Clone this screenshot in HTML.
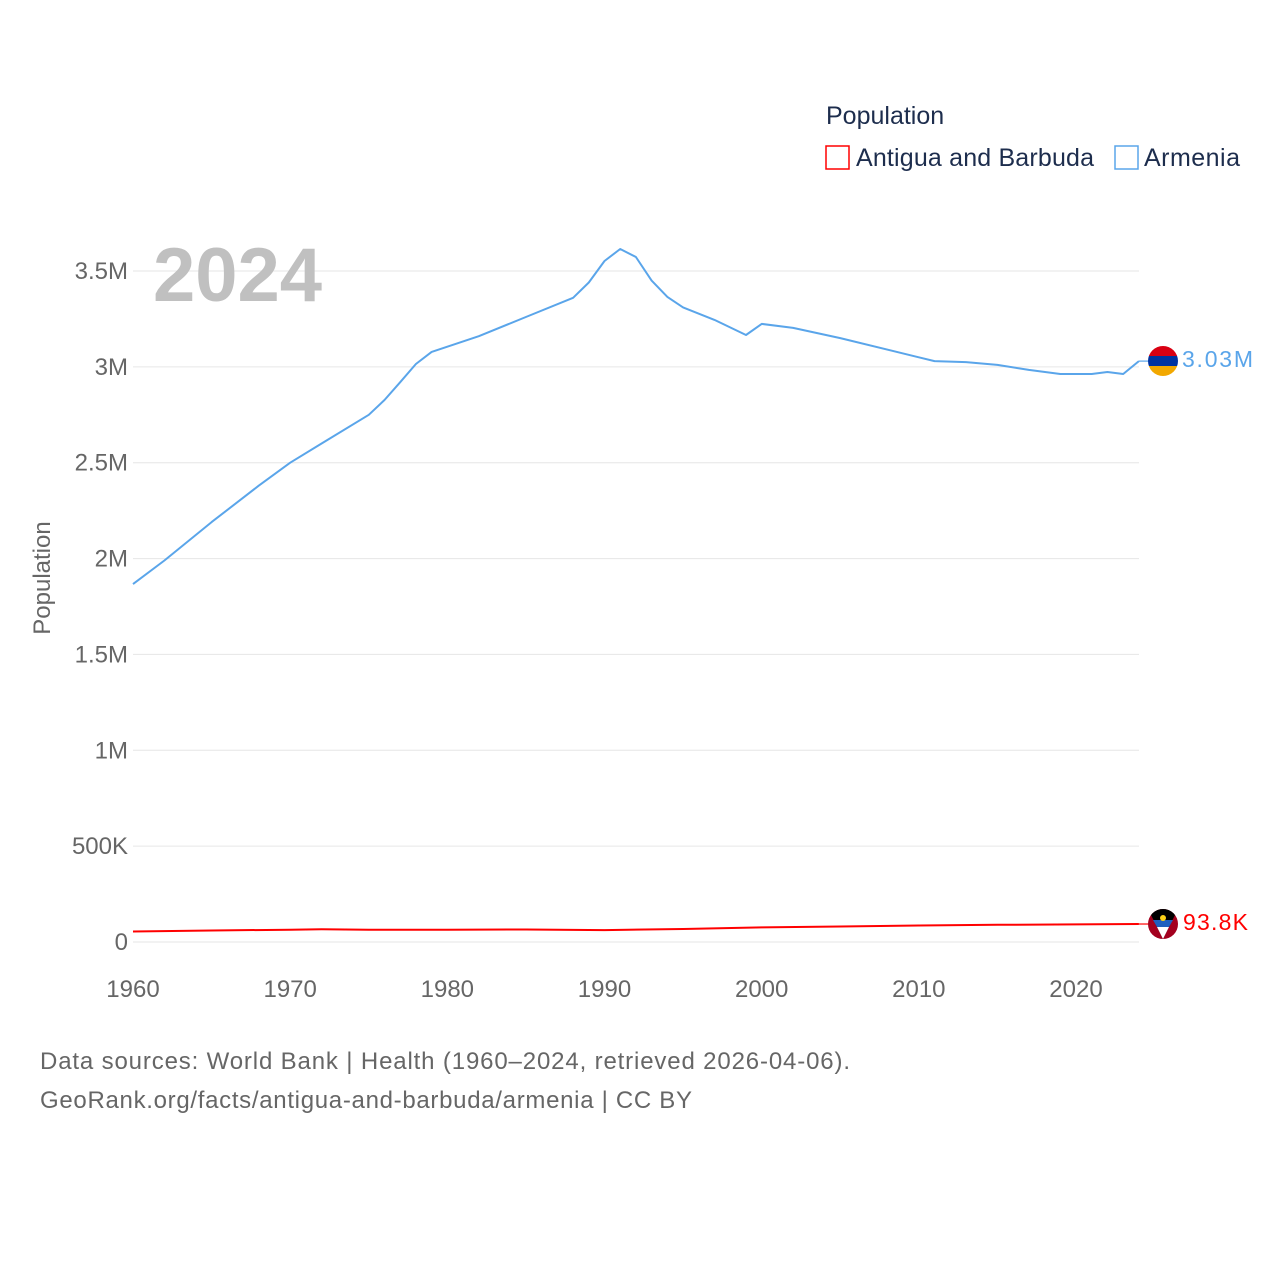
<!DOCTYPE html>
<html><head><meta charset="utf-8">
<style>
html,body{margin:0;padding:0;background:#fff;}
body{width:1280px;height:1280px;overflow:hidden;font-family:"Liberation Sans",sans-serif;}
</style></head>
<body>
<svg id="chart" width="1280" height="1280" xmlns="http://www.w3.org/2000/svg" font-family="Liberation Sans, sans-serif">
  <g id="grid"></g>
  <g id="yticks"></g>
  <g id="xticks"></g>
  <text x="153" y="301" font-size="76" font-weight="bold" fill="#c0c0c0">2024</text>
  <text transform="translate(50,578) rotate(-90)" text-anchor="middle" font-size="24" fill="#666">Population</text>
  <g id="series"></g>
  <g>
    <text x="826" y="124" font-size="25" fill="#1d2d4d">Population</text>
    <g>
      <rect x="826" y="146" width="23" height="23" fill="none" stroke="#ff0000" stroke-width="1.5"/>
      <text x="856" y="166" font-size="25" fill="#1d2d4d" textLength="238">Antigua and Barbuda</text>
    </g>
    <g>
      <rect x="1115" y="146" width="23" height="23" fill="none" stroke="#5aa5ea" stroke-width="1.5"/>
      <text x="1144" y="166" font-size="25" fill="#1d2d4d" textLength="96">Armenia</text>
    </g>
  </g>
  <g>
    <clipPath id="c1"><circle cx="1163" cy="361" r="15"/></clipPath>
    <g clip-path="url(#c1)">
      <rect x="1148" y="346" width="30" height="10" fill="#d90012"/>
      <rect x="1148" y="356" width="30" height="10" fill="#0033a0"/>
      <rect x="1148" y="366" width="30" height="10" fill="#f2a800"/>
    </g>
  </g>
  <text x="1182" y="367" font-size="23" fill="#5aa5ea" textLength="71">3.03M</text>
  <g>
    <clipPath id="c2"><circle cx="1163" cy="924" r="15"/></clipPath>
    <g clip-path="url(#c2)">
      <rect x="1148" y="909" width="30" height="30" fill="#a3001e"/>
      <polygon points="1148,909 1178,909 1163,939" fill="#000"/>
      <polygon points="1153,920 1173,920 1169,927 1157,927" fill="#1e5fbe"/>
      <polygon points="1157,927 1169,927 1163,939" fill="#fff"/>
      <circle cx="1163" cy="918" r="3" fill="#fcd116"/>
    </g>
  </g>
  <text x="1183" y="930" font-size="23" fill="#ff0000" textLength="65">93.8K</text>
  <text x="40" y="1069" font-size="24" fill="#666" textLength="810">Data sources: World Bank | Health (1960–2024, retrieved 2026-04-06).</text>
  <text x="40" y="1108" font-size="24" fill="#666" textLength="652">GeoRank.org/facts/antigua-and-barbuda/armenia | CC BY</text>
</svg>
<script>
const armeniaYears = [1960,1962,1965,1968,1970,1972,1975,1976,1977,1978,1979,1982,1985,1988,1989,1990,1991,1992,1993,1994,1995,1997,1999,2000,2002,2005,2010,2011,2013,2015,2017,2019,2021,2022,2023,2024];
const armeniaValues = [1.867e6,1.99e6,2.19e6,2.38e6,2.5e6,2.6e6,2.75e6,2.827e6,2.92e6,3.015e6,3.078e6,3.16e6,3.26e6,3.36e6,3.44e6,3.552e6,3.615e6,3.573e6,3.45e6,3.365e6,3.31e6,3.245e6,3.166e6,3.224e6,3.203e6,3.15e6,3.05e6,3.03e6,3.025e6,3.01e6,2.984e6,2.963e6,2.963e6,2.973e6,2.963e6,3.03e6];
const antiguaYears = [1960,1965,1970,1972,1975,1980,1985,1990,1995,2000,2005,2010,2015,2020,2024];
const antiguaValues = [55000,60000,64000,66000,64000,64000,65000,62000,68000,76000,81000,86000,89500,92000,93800];
const yTicks = [0,500000,1000000,1500000,2000000,2500000,3000000,3500000];
const yTickLabels = ["0","500K","1M","1.5M","2M","2.5M","3M","3.5M"];
const xTicks = [1960,1970,1980,1990,2000,2010,2020];

const NS="http://www.w3.org/2000/svg";
const xs = yr => 133 + (yr-1960)*(943/60);
const ys = v => 942 - v*(671/3.5e6);
function mk(tag, attrs, parent){const e=document.createElementNS(NS,tag);for(const k in attrs)e.setAttribute(k,attrs[k]);parent.appendChild(e);return e;}
const grid=document.getElementById('grid'), yt=document.getElementById('yticks'), xt=document.getElementById('xticks'), ser=document.getElementById('series');
yTicks.forEach((v,i)=>{
  const l=mk('line',{x1:133,x2:1139,y1:ys(v),y2:ys(v),stroke:'#e6e6e6','stroke-width':1},grid);
  
  
  const t=mk('text',{x:128,y:ys(v)+8,'text-anchor':'end','font-size':24,fill:'#666'},yt);
  t.textContent=yTickLabels[i];
  
  
});
xTicks.forEach(yr=>{
  const t=mk('text',{x:xs(yr),y:997,'text-anchor':'middle','font-size':24,fill:'#666'},xt);
  t.textContent=yr;
  
  
});
function line(years, vals, color, w, name){
  const d=years.map((y,i)=>(i?'L':'M')+xs(y).toFixed(1)+','+ys(vals[i]).toFixed(1)).join(' ');
  const p=mk('path',{d:d,fill:'none',stroke:color,'stroke-width':w,'stroke-linejoin':'round'},ser);
  
  
  const ly=ys(vals[vals.length-1]);
  const c=mk('line',{x1:xs(years[years.length-1]),x2:1150,y1:ly,y2:ly,stroke:color,'stroke-width':1.2},ser);
  
  
}
line(antiguaYears, antiguaValues, '#ff0000', 2, 'antigua-line');
line(armeniaYears, armeniaValues, '#5aa5ea', 2, 'armenia-line');
</script>
</body></html>
